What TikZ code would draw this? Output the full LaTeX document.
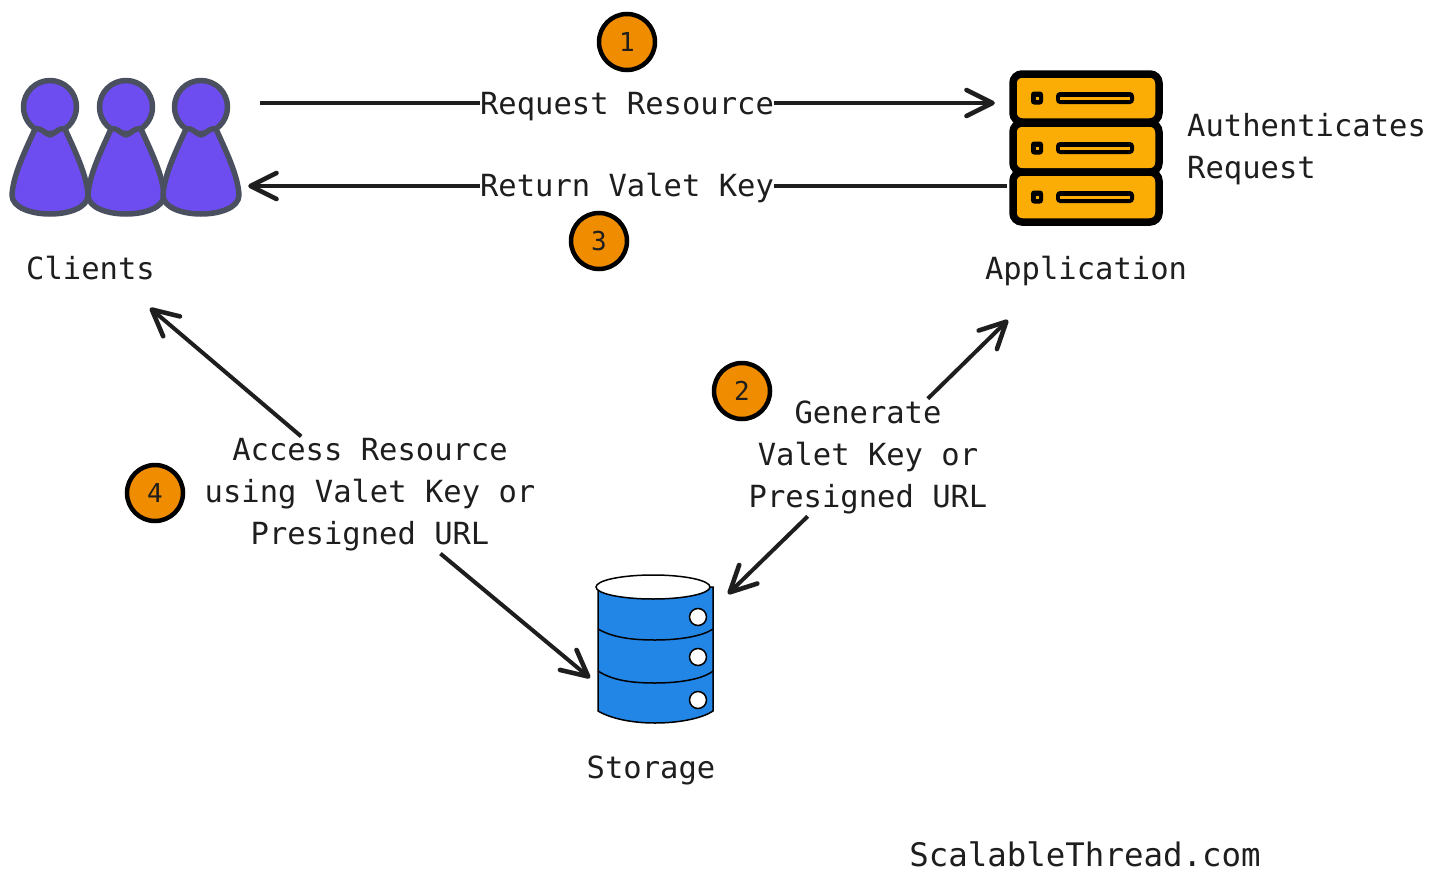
\documentclass[tikz,border=0pt]{standalone}
\usepackage{fontspec}
\setmonofont{DejaVu Sans Mono}
\usetikzlibrary{arrows.meta}
\definecolor{ink}{HTML}{1E1E1E}
\definecolor{person}{HTML}{6D4DF0}
\definecolor{personline}{HTML}{4B5060}
\definecolor{serverfill}{HTML}{FBAD05}
\definecolor{dbfill}{HTML}{2286E6}
\definecolor{badgefill}{HTML}{F08C00}
\tikzset{
  lbl/.style={font=\ttfamily\fontsize{30.5}{42}\selectfont, inner sep=2pt, align=center, text=ink, fill=white},
  arr/.style={draw=ink, line width=4pt, -{Straight Barb[length=26pt,width=26pt,line width=4.6pt,round]}},
  plain/.style={draw=ink, line width=4pt},
  badge/.style={circle, draw=black, line width=4.5pt, fill=badgefill, minimum size=56pt, inner sep=0pt, text=ink, font=\ttfamily\fontsize{26}{30}\selectfont},
  iconbox/.style={inner sep=0pt, minimum width=#1},
  pers/.style={draw=personline, line width=5.5pt, fill=person, line join=round},
  srv/.style={draw=black, line width=7.5pt, fill=serverfill, rounded corners=9pt},
  db/.style={draw=black, line width=1.5pt},
}
\begin{document}
\begin{tikzpicture}[x=1pt,y=-1pt]
\useasboundingbox (0,0) rectangle (1456,886);
\fill[white] (0,0) rectangle (1456,886);
% invisible icon frames, for the connectors to attach to
\node[iconbox=243pt, minimum height=140pt] (clients) at (126.5,147) {};
\node[iconbox=160pt, minimum height=156pt] (app) at (1087,148) {};
\node[iconbox=120pt, minimum height=150pt] (storage) at (655,649) {};
% clients
\foreach \cx in {50,126,201}{
  \begin{scope}[shift={(\cx,0)}]
    \draw[pers] (0,107) circle (26.5);
    \draw[pers] (-15,129) .. controls (-9,127) and (-5,134) .. (0,135)
      .. controls (5,134) and (9,127) .. (15,129)
      .. controls (24,149) and (37,175) .. (38,195)
      .. controls (38,208) and (18,214) .. (0,214)
      .. controls (-18,214) and (-38,208) .. (-38,195)
      .. controls (-37,175) and (-24,149) .. (-15,129) -- cycle;
  \end{scope}
}
% application
\foreach \ya/\yb in {74/122,123/172,172/222}{
  \draw[srv] (1013,\ya) rectangle (1159,\yb);
}
\foreach \yc in {98,148,197}{
  \fill[black, rounded corners=3pt] (1031,\yc-6.5) rectangle (1043,\yc+6.5);
  \fill[serverfill] (1035.5,\yc-1.5) rectangle (1038.5,\yc+1.5);
  \fill[black, rounded corners=4pt] (1056,\yc-6) rectangle (1134,\yc+6);
  \fill[serverfill] (1060,\yc-1.5) rectangle (1130,\yc+1.5);
}
% storage
\draw[db, fill=dbfill] (598,587) -- (598,711) .. controls (610,718) and (630,723) .. (655,723)
  .. controls (680,723) and (703,718) .. (713,711) -- (713,587) -- cycle;
\draw[db] (598,629) .. controls (612,637) and (630,640) .. (655,640) .. controls (680,640) and (703,636) .. (713,629);
\draw[db] (598,671) .. controls (612,680) and (630,683) .. (655,683) .. controls (680,683) and (703,679) .. (713,671);
\draw[db, fill=white] (653,587) ellipse (57 and 12);
\foreach \yc in {617,657,700}{
  \draw[db, fill=white] (698,\yc) circle (8.5);
}
% labels
\node[lbl] (clientsT) at (90.5,268) {Clients};
\node[lbl] (appT) at (1086,271) {Application};
\node[lbl] (storageT) at (651,770) {Storage};
\node[lbl, align=left, anchor=west] (auth) at (1185,149) {Authenticates\\Request};
\node[lbl, inner sep=0pt, text height=26pt, text depth=3pt] (req) at (627,103) {Request Resource};
\node[lbl, inner sep=0pt, text height=25pt, text depth=4pt] (ret) at (627,186) {Return Valet Key};
\node[lbl] (access) at (370,495) {Access Resource\\using Valet Key or\\Presigned URL};
\node[lbl] (gen) at (868,457.5) {Generate\\Valet Key or\\Presigned URL};
\node[lbl, font=\ttfamily\fontsize{32.4}{40}\selectfont] (brand) at (1085,854) {ScalableThread.com};
% connector ends
\coordinate (clientsIn) at (150,308);
\coordinate (storeLeft) at (590,678);
\coordinate (appIn) at (1008,320);
\coordinate (storeRight) at (728,594);
% connectors
\draw[plain, shorten <=12pt] (clients.east |- req) -- (req.west);
\draw[arr, shorten >=12pt] (req.east) -- (app.west |- req);
\draw[plain] (app.west |- ret) -- (ret.east);
\draw[arr] (ret.west) -- (clients.east |- ret);
\draw[arr] (access) -- (clientsIn);
\draw[arr] (access) -- (storeLeft);
\draw[arr] (gen) -- (appIn);
\draw[arr] (gen) -- (storeRight);
% badges
\node[badge] (b1) at (627,42) {1};
\node[badge] (b2) at (742,391) {2};
\node[badge] (b3) at (599,241) {3};
\node[badge] (b4) at (155,493) {4};
\end{tikzpicture}
\end{document}
